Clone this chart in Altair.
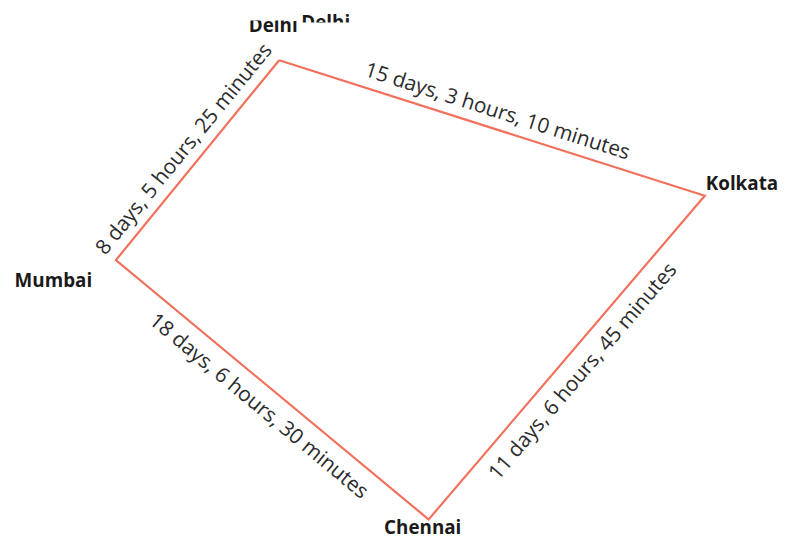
import math
import altair as alt
import pandas as pd

# ---- data ----
cities = ["Delhi", "Kolkata", "Chennai", "Mumbai"]
city_x = [282, 712, 433, 117]
city_y = [58, 195, 522, 260]

route = ["Delhi", "Kolkata", "Chennai", "Mumbai", "Delhi"]

edge_from = ["Mumbai", "Delhi", "Chennai", "Mumbai"]
edge_to = ["Delhi", "Kolkata", "Kolkata", "Chennai"]
durations = [
    "8 days, 5 hours, 25 minutes",
    "15 days, 3 hours, 10 minutes",
    "11 days, 6 hours, 45 minutes",
    "18 days, 6 hours, 30 minutes",
]

# ---- tables ----
pos = {c: (x, y) for c, x, y in zip(cities, city_x, city_y)}
city_df = pd.DataFrame({"city": cities, "x": city_x, "y": city_y})
path_df = pd.DataFrame({
    "city": route,
    "order": list(range(len(route))),
    "x": [pos[c][0] for c in route],
    "y": [pos[c][1] for c in route],
})

cx = sum(city_x) / len(city_x)
cy = sum(city_y) / len(city_y)
rows = []
for a, b, t in zip(edge_from, edge_to, durations):
    (x1, y1), (x2, y2) = pos[a], pos[b]
    mx, my = (x1 + x2) / 2, (y1 + y2) / 2
    ang = math.degrees(math.atan2(y2 - y1, x2 - x1))
    if ang > 90:
        ang -= 180
    if ang < -90:
        ang += 180
    r = math.radians(ang)
    ux, uy = math.sin(r), -math.cos(r)
    side = "above" if ux * (mx - cx) + uy * (my - cy) > 0 else "below"
    rows.append({"label": t, "x": mx, "y": my, "angle": ang % 360, "side": side})
edge_df = pd.DataFrame(rows)

PAD_TOP = 10
W = 779
H = 520
LINE_COLOR = "#F2715C"
FONT = "Open Sans"

xs = alt.Scale(domain=[8, 8 + W], nice=False, zero=False)
ys = alt.Scale(domain=[8 + PAD_TOP, 8 + PAD_TOP + H], reverse=True, nice=False, zero=False)
X = alt.X("x:Q", scale=xs, axis=None)
Y = alt.Y("y:Q", scale=ys, axis=None)

line = alt.Chart(path_df).mark_line(color=LINE_COLOR, strokeWidth=2.2).encode(
    x=X, y=Y, order="order:Q"
)

def edge_layer(side, dy):
    return alt.Chart(edge_df).transform_filter(
        alt.datum.side == side
    ).mark_text(
        font=FONT, fontSize=21, color="#2b2b2b", dy=dy, baseline="middle", align="center"
    ).encode(x=X, y=Y, text="label:N", angle=alt.Angle("angle:Q", scale=None))

def city_layer(name, dx, dy, align, clip=False):
    return alt.Chart(city_df).transform_filter(
        alt.datum.city == name
    ).mark_text(
        font=FONT, fontSize=19, fontWeight="bold", color="#1a1a1a",
        dx=dx, dy=dy, align=align, baseline="alphabetic", clip=clip
    ).encode(x=X, y=Y, text="city:N")

# duplicated Delhi label peeking out above the first one, partly hidden
ghost = city_layer("Delhi", 47, -32, "center")
ghost_mask = alt.Chart(city_df).transform_filter(
    alt.datum.city == "Delhi"
).transform_calculate(
    mx1="datum.x + 20", mx2="datum.x + 82", my1="datum.y - 38", my2="datum.y - 24"
).mark_rect(color="white").encode(
    x=alt.X("mx1:Q", scale=xs, axis=None),
    x2="mx2:Q",
    y=alt.Y("my1:Q", scale=ys, axis=None),
    y2="my2:Q",
)

chart = alt.layer(
    line,
    edge_layer("above", -17),
    edge_layer("below", 22),
    city_layer("Kolkata", 1, -6, "left"),
    city_layer("Chennai", -6, 15, "center"),
    city_layer("Mumbai", -24, 27, "right"),
    ghost,
    ghost_mask,
    city_layer("Delhi", -6, -28, "center", clip=True),
).properties(
    width=W,
    height=H,
    padding={"top": PAD_TOP, "left": 0, "right": 0, "bottom": 0},
    autosize=alt.AutoSizeParams(type="none"),
).configure_view(stroke=None)

chart.save("out.html", embed_options={"renderer": "svg", "actions": False})
